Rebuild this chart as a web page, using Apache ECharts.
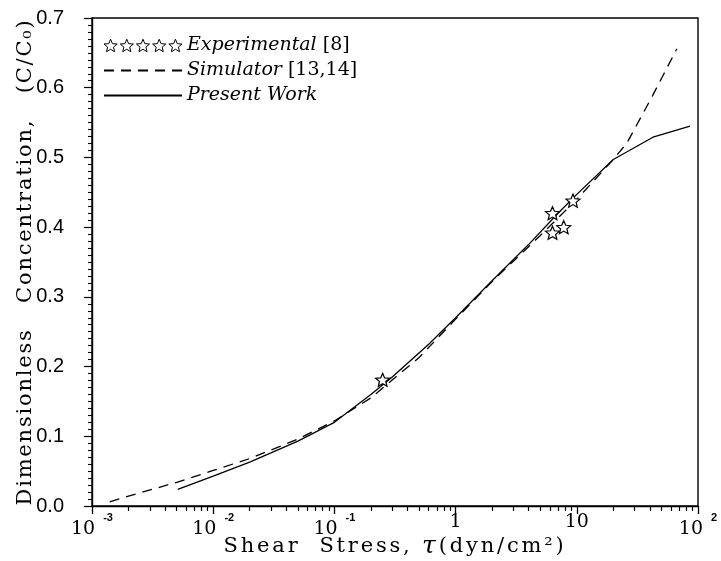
<!DOCTYPE html>
<html>
<head>
<meta charset="utf-8">
<script src="https://cdn.jsdelivr.net/npm/echarts@6/dist/echarts.min.js"></script>
<style>html,body{margin:0;padding:0;background:#fff}#c{width:721px;height:561px}</style>
</head>
<body>
<div id="c"></div>
<script>
// ---- data ----
const expX = [0.25, 6.3, 6.3, 7.8, 9.3];
const expY = [0.181, 0.420, 0.392, 0.400, 0.438];

const simX = [0.0014, 0.002, 0.005, 0.01, 0.02, 0.05, 0.1, 0.2, 0.5, 1, 2, 5, 10, 20, 26, 42, 67];
const simY = [0.006, 0.014, 0.034, 0.051, 0.068, 0.096, 0.122, 0.155, 0.213, 0.268, 0.322, 0.388, 0.440, 0.497, 0.521, 0.588, 0.656];

const presX = [0.0051, 0.01, 0.02, 0.05, 0.1, 0.2, 0.3, 0.6, 1, 2, 4, 7, 10, 20, 42.5, 86];
const presY = [0.024, 0.043, 0.063, 0.093, 0.120, 0.160, 0.185, 0.232, 0.270, 0.323, 0.375, 0.420, 0.447, 0.497, 0.529, 0.545];

const xMinorTickLogs = [2,3,4,5,6,7,8,9].flatMap(m => [-3,-2,-1,0,1].map(e => Math.log10(m) + e));
const legendRefs = {'Experimental': '[8]', 'Simulator': '[13,14]', 'Present Work': ''};
const xTitle = 'Shear  Stress, ';
const xTitleUnit = '(dyn/cm²)';
const yTitle = 'Dimensionless   Concentration,   (C/C₀)';

const zip = (a, b) => a.map((v, i) => [v, b[i]]);
const spaced = (str, key) => Array.from(str).map(ch => '{' + key + '|' + ch + '}').join('');

const STAR_PTS = [[100,0],[126.5,63.6],[195.1,69.1],[142.8,113.9],[158.8,180.9],[100,145],[41.2,180.9],[57.2,113.9],[4.9,69.1],[73.5,63.6]];
const STAR = 'path://M' + STAR_PTS.map(p => p[0] + ',' + p[1]).join('L') + 'Z';
let fiveStars = 'path://';
for (let k = 0; k < 5; k++) {
  const o = k * 235;
  fiveStars += 'M' + STAR_PTS.map(p => (p[0] + o) + ',' + p[1]).join('L') + 'Z';
}

const serif = 'DejaVu Serif';
const chart = echarts.init(document.getElementById('c'), null, {renderer: 'canvas'});
chart.setOption({
  animation: false,
  backgroundColor: '#fff',
  grid: {left: 92, right: 23, top: 18, bottom: 55, outerBoundsMode: 'none', containLabel: false,
         show: true, borderColor: '#000', borderWidth: 1.4, backgroundColor: 'transparent'},
  legend: {
    orient: 'vertical', left: 98, top: 31, itemGap: 6, itemWidth: 78, itemHeight: 13,
    data: [
      {name: 'Experimental', icon: fiveStars, itemStyle: {borderWidth: 1}},
      {name: 'Simulator'},
      {name: 'Present Work'}
    ],
    formatter: n => '{i|' + n + '}' + (legendRefs[n] ? '{r| ' + legendRefs[n] + '}' : ''),
    textStyle: {
      rich: {
        i: {fontFamily: serif, fontStyle: 'italic', fontSize: 19, color: '#000'},
        r: {fontFamily: serif, fontSize: 19, color: '#000'}
      }
    }
  },
  xAxis: [{
    type: 'log', logBase: 10, min: 0.001, max: 100,
    name: spaced(xTitle, 'a') + '{t|τ}' + spaced(xTitleUnit, 'a'),
    nameLocation: 'middle', nameGap: 28, nameMoveOverlap: false,
    nameTextStyle: {rich: {
      a: {fontFamily: serif, fontSize: 21, color: '#000', padding: [0, 2.8, 0, 0]},
      t: {fontFamily: serif, fontStyle: 'italic', fontSize: 25, color: '#000', padding: [0, 3, 0, 0]}
    }},
    axisLine: {show: true, onZero: false, lineStyle: {color: '#000', width: 1.4}},
    axisTick: {show: true, length: 8, lineStyle: {color: '#000', width: 1.3}},
    minorTick: {show: false},
    splitLine: {show: false},
    axisLabel: {
      margin: 6,
      formatter: v => {
        const e = Math.round(Math.log10(v));
        if (e === 0) return '{p|1}';
        if (e === 1) return '{p|10}';
        return '{n|10}{s|' + (e < 0 ? '-' + (-e) : e) + '}';
      },
      rich: {
        p: {fontFamily: serif, fontSize: 19, color: '#000', lineHeight: 21},
        n: {fontFamily: serif, fontSize: 19, color: '#000', lineHeight: 27, verticalAlign: 'bottom'},
        s: {fontFamily: 'Liberation Sans', fontWeight: 'bold', fontSize: 11, color: '#000', verticalAlign: 'top', lineHeight: 12, padding: [0, 0, 0, 8]}
      }
    }
  }, {
    type: 'value', min: -3, max: 2, position: 'bottom',
    axisLine: {show: false, onZero: false}, axisLabel: {show: false}, splitLine: {show: false},
    axisTick: {show: true, length: 5, customValues: xMinorTickLogs, lineStyle: {color: '#000', width: 1.2}}
  }],
  yAxis: {
    type: 'value', min: 0, max: 0.7, interval: 0.1,
    name: spaced(yTitle, 'a'),
    nameLocation: 'middle', nameGap: 56, nameMoveOverlap: false,
    nameTextStyle: {rich: {a: {fontFamily: serif, fontSize: 21, color: '#000', padding: [0, 1.8, 0, 0]}}},
    axisLine: {show: true, onZero: false, lineStyle: {color: '#000', width: 1.4}},
    axisTick: {show: true, length: 8, lineStyle: {color: '#000', width: 1.2}},
    minorTick: {show: true, splitNumber: 10, length: 4, lineStyle: {color: '#000', width: 1.1}},
    splitLine: {show: false},
    axisLabel: {margin: 28, fontFamily: 'Liberation Sans', fontSize: 20, color: '#000', formatter: v => v.toFixed(1)}
  },
  series: [
    {
      name: 'Experimental', type: 'scatter', symbol: STAR, symbolSize: [14, 13], z: 5,
      itemStyle: {color: '#fff', borderColor: '#000', borderWidth: 1.2, opacity: 1},
      data: zip(expX, expY)
    },
    {
      name: 'Simulator', type: 'line', symbol: 'circle', showSymbol: false,
      lineStyle: {color: '#000', width: 1.3, type: [10, 7]},
      itemStyle: {color: '#000', opacity: 0},
      data: zip(simX, simY)
    },
    {
      name: 'Present Work', type: 'line', symbol: 'circle', showSymbol: false,
      lineStyle: {color: '#000', width: 1.3},
      itemStyle: {color: '#000', opacity: 0},
      data: zip(presX, presY)
    }
  ]
});
</script>
</body>
</html>
